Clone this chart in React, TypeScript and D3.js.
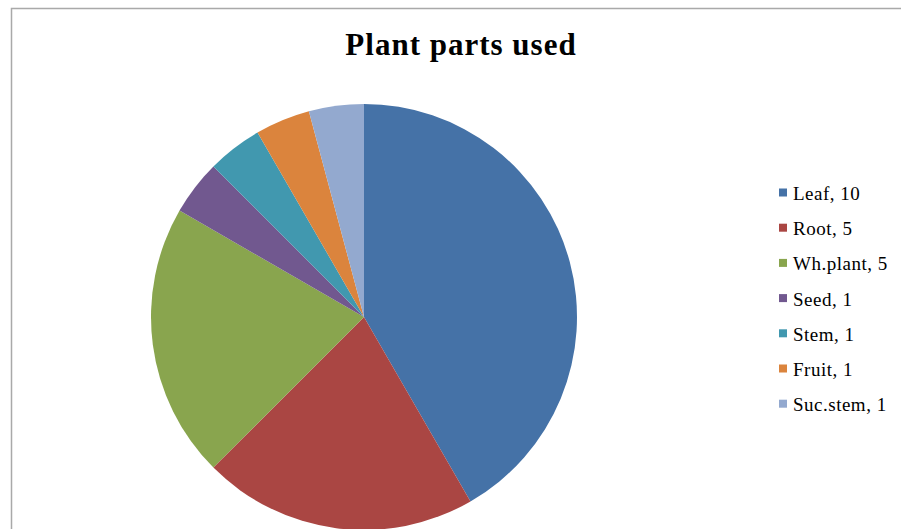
import React, { useEffect, useRef } from 'react';
import * as d3 from 'd3';

const categories = ['Leaf', 'Root', 'Wh.plant', 'Seed', 'Stem', 'Fruit', 'Suc.stem'];
const values = [10, 5, 5, 1, 1, 1, 1];
const colors = ['#4572A7', '#AA4643', '#89A54E', '#71588F', '#4198AF', '#DB843D', '#93A9CF'];

const App = () => {
  const ref = useRef(null);

  useEffect(() => {
    if (!ref.current) return;
    d3.select(ref.current).selectAll('*').remove();

    const width = 901;
    const height = 529;

    const svg = d3.select(ref.current)
      .append('svg')
      .attr('width', width)
      .attr('height', height)
      .style('display', 'block')
      .style('background', 'white');

    // chart area border (runs off the right and bottom)
    svg.append('path')
      .attr('d', `M11.5,${height + 5} L11.5,8.5 L${width + 5},8.5`)
      .attr('fill', 'none')
      .attr('stroke', '#a9a9a9')
      .attr('stroke-width', 1.5);

    svg.append('text')
      .attr('x', 461)
      .attr('y', 55)
      .attr('text-anchor', 'middle')
      .style('font-family', '"Liberation Serif", "Times New Roman", serif')
      .style('font-size', '31px')
      .style('letter-spacing', '1px')
      .style('font-weight', 'bold')
      .text('Plant parts used');

    const data = categories.map((c, i) => ({ name: c, value: values[i], color: colors[i] }));

    const pie = d3.pie().value(d => d.value).sort(null);
    const arc = d3.arc().innerRadius(0).outerRadius(213);

    const g = svg.append('g').attr('transform', 'translate(364, 317)');
    g.selectAll('path')
      .data(pie(data))
      .enter()
      .append('path')
      .attr('d', arc)
      .attr('fill', d => d.data.color);

    const legend = svg.append('g').attr('transform', 'translate(779, 193)');
    const rows = legend.selectAll('g')
      .data(data)
      .enter()
      .append('g')
      .attr('transform', (d, i) => `translate(0, ${i * 35.2})`);

    rows.append('rect')
      .attr('x', 0)
      .attr('y', -4.5)
      .attr('width', 8)
      .attr('height', 8)
      .attr('fill', d => d.color);

    rows.append('text')
      .attr('x', 14)
      .attr('y', 7)
      .style('font-family', '"Liberation Serif", "Times New Roman", serif')
      .style('font-size', '19px')
      .style('letter-spacing', '0.5px')
      .attr('fill', '#000')
      .text(d => `${d.name}, ${d.value}`);
  }, []);

  return <div ref={ref} style={{ position: 'fixed', left: 0, top: 0 }} />;
};

export default App;
